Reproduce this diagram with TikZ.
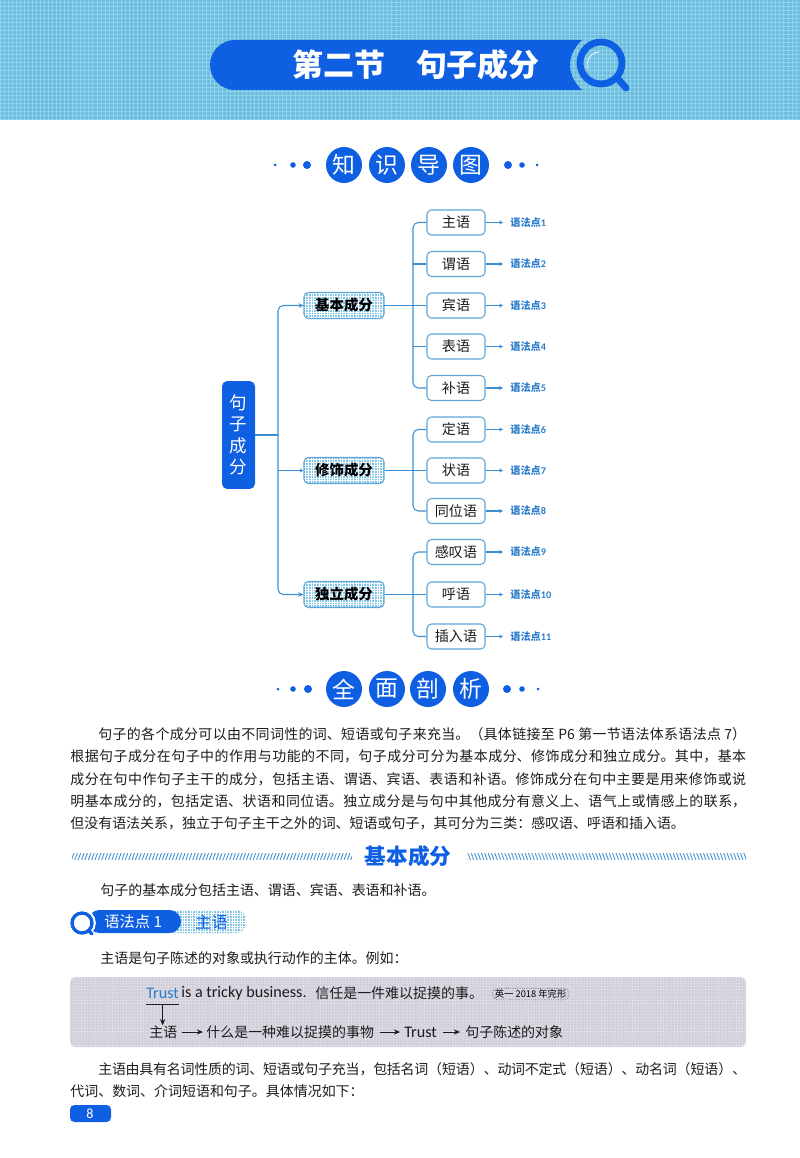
\documentclass[tikz,border=0pt]{standalone}
\usepackage{fontspec}
\setmainfont{Noto Sans CJK SC}
\newfontfamily\latinfont{Carlito}
\usetikzlibrary{arrows.meta,patterns.meta}
\XeTeXlinebreaklocale "zh"
\XeTeXlinebreakskip=0pt plus 1pt minus .3pt
\definecolor{mainblue}{HTML}{0F5FE3}
\definecolor{linkblue}{HTML}{3E8FD2}
\definecolor{edgeblue}{HTML}{5CA6D8}
\definecolor{paleblue}{HTML}{80C5E6}
\definecolor{skyblue}{HTML}{6CBCE0}
\definecolor{skyline}{HTML}{90D2EA}
\definecolor{pointblue}{HTML}{2A7CCB}
\definecolor{boxgrey}{HTML}{D3D1DC}
\definecolor{inkgrey}{HTML}{1C1C1C}
\tikzset{
  link/.style={linkblue,line width=.6pt},
  linktip/.style={link,-{Stealth[length=2.2pt,width=2.2pt]}},
  trunk/.style={link,rounded corners=3pt},
  rootbox/.style={fill=mainblue,rounded corners=3pt,text=white,minimum width=.66cm,minimum height=2.16cm,inner sep=0pt,align=center,font=\fontsize{10}{12.2}\selectfont},
  midbox/.style={draw=edgeblue,line width=.6pt,rounded corners=2.5pt,minimum width=1.6cm,minimum height=.52cm,inner sep=0pt,font=\fontsize{8.2}{9}\selectfont\bfseries,text=black,
    preaction={fill=paleblue},pattern={Hatch[distance=1.5pt,line width=.25pt]},pattern color=white},
  leafbox/.style={draw=edgeblue,line width=.6pt,fill=white,rounded corners=2.5pt,minimum width=1.16cm,minimum height=.5cm,inner sep=0pt,font=\fontsize{8}{9}\selectfont,text=inkgrey},
  pointlabel/.style={anchor=west,inner ysep=0pt,inner xsep=.14cm,text=pointblue,font=\fontsize{5.8}{6}\selectfont\bfseries},
  roundtitle/.style={circle,fill=mainblue,minimum size=.72cm,inner sep=0pt,text=white,font=\fontsize{13}{14}\selectfont},
  body/.style={anchor=north west,inner sep=0pt,text=inkgrey,text width=13.52cm,align=justify,font=\fontsize{7.95}{12.6}\selectfont},
  bodyline/.style={anchor=west,inner sep=0pt,text=inkgrey,font=\fontsize{7.95}{9}\selectfont},
  exline/.style={anchor=west,inner sep=0pt,text=inkgrey,font=\fontsize{7.95}{9}\selectfont},
  latinline/.style={exline,font=\fontsize{9.2}{10}\selectfont\latinfont},
  exarrow/.style={inkgrey,line width=.5pt,-{Stealth[length=3.5pt,width=3pt]}},
  ringline/.style={mainblue,line cap=round},
}
\begin{document}
\begin{tikzpicture}[x=0.02cm,y=-0.02cm]
\useasboundingbox (0,0) rectangle (800,1158);
% banner
\fill[skyblue] (0,0) rectangle (800,120);
\fill[pattern={Hatch[distance=2.3pt,line width=.55pt]},pattern color=skyline] (0,0) rectangle (800,120);
\fill[mainblue,rounded corners=.5cm] (582,40) -- (210,40) -- (210,90) [sharp corners] -- (582,90) .. controls (566,75) and (566,55) .. (582,40) -- cycle;
\draw[ringline,line width=3.9pt] (601,63) circle[radius=.42cm];
\draw[ringline,line width=3.9pt] (619,80) -- (626,88);
\draw[white!70!skyblue,line width=.7pt,line cap=round] (588,69) .. controls (586,60) and (590,53) .. (599,52);
\node[text=white,inner sep=0pt,font=\fontsize{17.6}{18}\selectfont\bfseries] (banner) at (416,65) {第二节\hspace{1em}句子成分};
% first heading row
\foreach \headname/\headchar/\headx in {zhi/知/344,shi/识/387,dao/导/429,tu/图/471}
  \node[roundtitle] (\headname) at (\headx,165) {\headchar};
\foreach \dotx/\dotr in {275/1.5,293/2.8,307/4,508/4,522/2.8,537/1.5}
  \fill[mainblue] (\dotx,165) circle[radius=\dotr];
% tree
\node[rootbox] (root) at (238.5,435) {句\\子\\成\\分};
\node[midbox] (jiben) at (344,305.5) {基本成分};
\node[midbox] (xiushi) at (344,470.5) {修饰成分};
\node[midbox] (duli) at (344,594.5) {独立成分};
\foreach \leafname/\leaftext/\leafy/\pointtext in {
  zhuyu/主语/222.5/1,weiyu/谓语/264/2,binyu/宾语/305.5/3,biaoyu/表语/346.5/4,buyu/补语/388/5,
  dingyu/定语/429.5/6,zhuangyu/状语/470.5/7,tongwei/同位语/511/8,
  gantan/感叹语/552/9,huyu/呼语/594.5/10,charu/插入语/636.5/11}{
  \node[leafbox] (\leafname) at (456,\leafy) {\leaftext};
  \node[pointlabel] (point\leafname) at (503,\leafy) {语法点{\latinfont\pointtext}};
  \draw[linktip] (\leafname.east) -- (point\leafname.west);
}
\coordinate (trunkroot) at (278,435);
\coordinate (trunkjiben) at (413,305);
\coordinate (trunkxiushi) at (413,470);
\coordinate (trunkduli) at (413,594);
\draw[link] (root.east) -- (trunkroot);
\draw[trunk,-{Stealth[length=3pt,width=2.6pt]}] (trunkroot) |- (jiben.west);
\draw[trunk,-{Stealth[length=3pt,width=2.6pt]}] (trunkroot) |- (duli.west);
\draw[linktip] (trunkroot |- xiushi.west) -- (xiushi.west);
\draw[trunk] (zhuyu.west) -| (trunkjiben) |- (buyu.west);
\draw[link] (jiben.east) -- (binyu.west);
\draw[link] (trunkjiben |- weiyu.west) -- (weiyu.west);
\draw[link] (trunkjiben |- biaoyu.west) -- (biaoyu.west);
\draw[trunk] (dingyu.west) -| (trunkxiushi) |- (tongwei.west);
\draw[link] (xiushi.east) -- (zhuangyu.west);
\draw[trunk] (gantan.west) -| (trunkduli) |- (charu.west);
\draw[link] (duli.east) -- (huyu.west);
% second heading row
\foreach \headname/\headchar/\headx in {quan/全/344,mian/面/387,pou/剖/428,xi/析/471}
  \node[roundtitle] (\headname) at (\headx,689) {\headchar};
\foreach \dotx/\dotr in {278/1.5,293/2.8,308/4,507/4,522/2.8,538/1.5}
  \fill[mainblue] (\dotx,689) circle[radius=\dotr];
% text
\node[body] (intro) at (70,727.5) {\hspace*{2em}句子的各个成分可以由不同词性的词、短语或句子来充当。（具体链接至 P6 第一节语法体系语法点 7）\linebreak 根据句子成分在句子中的作用与功能的不同，句子成分可分为基本成分、修饰成分和独立成分。其中，基本\linebreak 成分在句中作句子主干的成分，包括主语、谓语、宾语、表语和补语。修饰成分在句中主要是用来修饰或说\linebreak 明基本成分的，包括定语、状语和同位语。独立成分是与句中其他成分有意义上、语气上或情感上的联系，\linebreak 但没有语法关系，独立于句子主干之外的词、短语或句子，其可分为三类：感叹语、呼语和插入语。};
\fill[pattern={Lines[angle=70,distance=1.8pt,line width=.5pt]},pattern color=linkblue] (72,853) rectangle (352,859);
\fill[pattern={Lines[angle=110,distance=1.8pt,line width=.5pt]},pattern color=linkblue] (467,853) rectangle (746,859);
\node[inner sep=0pt,text=mainblue,font=\fontsize{12.3}{13}\selectfont\bfseries] (section) at (408,856) {基本成分};
\node[bodyline] (sectionline) at (100,890) {句子的基本成分包括主语、谓语、宾语、表语和补语。};
% grammar point badge
\fill[paleblue,rounded corners=.2cm] (150,910) rectangle (246,933);
\fill[pattern={Hatch[distance=1.5pt,line width=.25pt]},pattern color=white,rounded corners=.2cm] (150,910) rectangle (246,933);
\fill[mainblue,rounded corners=.23cm] (88,910) rectangle (181,933);
\draw[white,fill=white,line width=1pt] (82,923) circle[radius=.26cm];
\draw[ringline,line width=1.9pt] (82,923) circle[radius=.2cm];
\draw[ringline,line width=1.9pt] (89,931) -- (92,934);
\node[anchor=west,inner sep=0pt,text=white,font=\fontsize{8.7}{9}\selectfont] (pointname) at (104,922) {语法点 1};
\node[anchor=west,inner sep=0pt,text=mainblue,font=\fontsize{9.2}{10}\selectfont] (pointtopic) at (195,922) {主语};
\node[bodyline] (pointline) at (100,958) {主语是句子陈述的对象或执行动作的主体。例如：};
% example box
\fill[boxgrey,rounded corners=3pt] (70,977) rectangle (746,1047);
\fill[pattern={Dots[distance=1.6pt,radius=.25pt]},pattern color=white,rounded corners=3pt] (70,977) rectangle (746,1047);
\node[latinline,text=pointblue,minimum height=.44cm] (trust) at (146,993) {Trust};
\node[latinline,minimum height=.44cm] (rest) at (181,993) {is a tricky business.};
\node[exline] (meaning) at (315,993) {信任是一件难以捉摸的事。};
\node[anchor=west,draw=inkgrey,densely dotted,line width=.3pt,rounded corners=3pt,inner xsep=1.5pt,inner ysep=.8pt,font=\fontsize{5.3}{5.8}\selectfont] (source) at (492,994) {英一 2018 年完形};
\draw[inkgrey,line width=.5pt] (trust.south west) -- (trust.south east);
\node[exline] (subject) at (149,1032) {主语};
\node[exline] (whatis) at (206,1032) {什么是一种难以捉摸的事物};
\node[latinline] (trusttwo) at (404,1032) {Trust};
\node[exline] (object) at (465,1032) {句子陈述的对象};
\draw[exarrow] (trust.south) -- (subject.north -| trust.south);
\draw[exarrow] (subject.east) ++(4,0) -- ([xshift=-.06cm]whatis.west);
\draw[exarrow] (whatis.east) ++(6,0) -- ([xshift=-.08cm]trusttwo.west);
\draw[exarrow] (trusttwo.east) ++(6,0) -- ([xshift=-.1cm]object.west);
\node[body] (usage) at (70,1062) {\hspace*{2em}主语由具有名词性质的词、短语或句子充当，包括名词（短语）、动词不定式（短语）、动名词（短语）、\linebreak 代词、数词、介词短语和句子。具体情况如下：};
% page tab
\fill[mainblue,rounded corners=2.5pt] (70,1105) rectangle (111,1122);
\node[inner sep=0pt,text=white,font=\fontsize{8}{9}\selectfont\latinfont] (pagenum) at (90,1114) {8};
\end{tikzpicture}
\end{document}
